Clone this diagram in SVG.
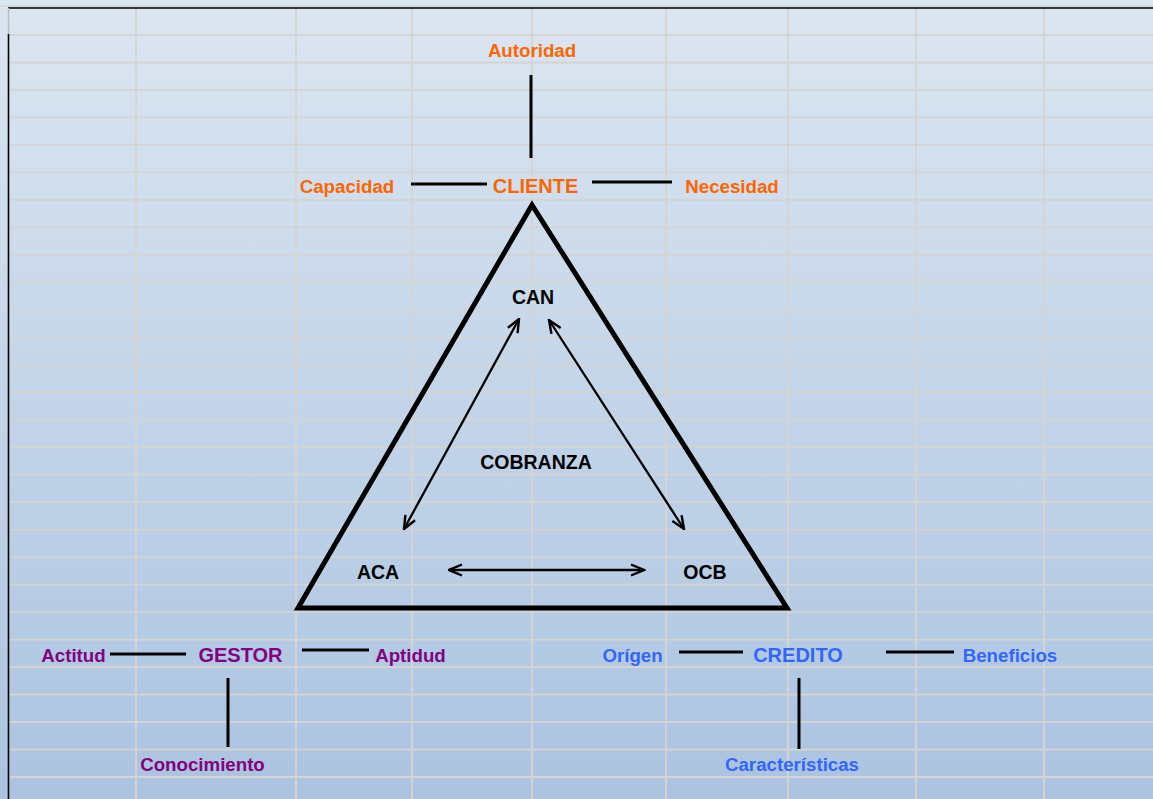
<svg xmlns="http://www.w3.org/2000/svg" width="1153" height="799" viewBox="0 0 1153 799">
<defs>
<linearGradient id="bg" x1="0" y1="0" x2="0" y2="1">
<stop offset="0" stop-color="#dce6f1"/>
<stop offset="1" stop-color="#abc3e0"/>
</linearGradient>
<marker id="arr" markerUnits="userSpaceOnUse" viewBox="0 0 16 14" markerWidth="16" markerHeight="14" refX="14.5" refY="7" orient="auto-start-reverse">
<path d="M1.5,1.5 L14.5,7 L1.5,12.5" fill="none" stroke="#000" stroke-width="2.4" stroke-linejoin="miter"/>
</marker>
</defs>
<style>
.grid{stroke:#d4d4d4;stroke-width:1.8;fill:none}
.t{font-family:"Liberation Sans",Arial,sans-serif;font-weight:bold;text-anchor:middle}
.lab{font-size:18.7px}
.main{font-size:20px}
.blk{font-size:19.5px;fill:#000}
.or{fill:#ff6600}
.pu{fill:#800080}
.bl{fill:#3366ff}
.ln{stroke:#000;stroke-width:3;fill:none}
.arw{stroke:#000;stroke-width:2.3;fill:none;marker-start:url(#arr);marker-end:url(#arr)}
</style>
<rect x="0" y="0" width="1153" height="799" fill="url(#bg)"/>
<g id="grid">
<path class="grid" d="M136,8V799M296,8V799M412,8V799M532,8V799M666,8V799M788,8V799M916,8V799M1044,8V799"/>
<path class="grid" d="M9,35H1153M9,62.5H1153M9,90H1153M9,117.4H1153M9,144.9H1153M9,172.4H1153M9,199.9H1153M9,227.4H1153M9,254.8H1153M9,282.3H1153M9,309.8H1153M9,337.3H1153M9,364.8H1153M9,392.2H1153M9,419.7H1153M9,447.2H1153M9,474.7H1153M9,502.2H1153M9,529.6H1153M9,557.1H1153M9,584.6H1153M9,612.1H1153M9,639.6H1153M9,667H1153M9,694.5H1153M9,722H1153M9,749.5H1153M9,777H1153"/>
<path d="M0,6H1153" stroke="#c8ccd2" stroke-width="1.2"/>
<path d="M8,8H1153" stroke="#000" stroke-width="1.6"/>
<path d="M8.5,8V34" stroke="#b8bcc2" stroke-width="1.5"/>
<path d="M8.5,34V799" stroke="#000" stroke-width="1.6"/>
</g>
<g id="connectors">
<path class="ln" d="M531,75V158"/>
<path class="ln" d="M411,184H487"/>
<path class="ln" d="M592,182H672"/>
<path class="ln" d="M110,654H186"/>
<path class="ln" d="M302,650H369"/>
<path class="ln" d="M228,678V747"/>
<path class="ln" d="M679,652H743"/>
<path class="ln" d="M886,652H954"/>
<path class="ln" d="M799,678V749"/>
<path class="arw" d="M519,319L404,529"/>
<path class="arw" d="M549,320L684,529"/>
<path class="arw" d="M449,570H644"/>
</g>
<g id="triangle">
<polygon points="532,205 298,608 787,608" fill="none" stroke="#000" stroke-width="5" stroke-linejoin="miter"/>
</g>
<g id="cliente"><text class="t main or" x="535.5" y="193">CLIENTE</text></g>
<g id="autoridad"><text class="t lab or" x="532" y="57">Autoridad</text></g>
<g id="capacidad"><text class="t lab or" x="347" y="193">Capacidad</text></g>
<g id="necesidad"><text class="t lab or" x="732" y="193">Necesidad</text></g>
<g id="can"><text class="t blk" x="533" y="304">CAN</text></g>
<g id="cobranza"><text class="t blk" x="536" y="469">COBRANZA</text></g>
<g id="aca"><text class="t blk" x="378" y="579">ACA</text></g>
<g id="ocb"><text class="t blk" x="705" y="579">OCB</text></g>
<g id="gestor"><text class="t main pu" x="240.5" y="662">GESTOR</text></g>
<g id="actitud"><text class="t lab pu" x="73.5" y="662">Actitud</text></g>
<g id="aptidud"><text class="t lab pu" x="410.5" y="662">Aptidud</text></g>
<g id="conocimiento"><text class="t lab pu" x="202.5" y="771">Conocimiento</text></g>
<g id="credito"><text class="t main bl" x="798" y="662">CREDITO</text></g>
<g id="origen"><text class="t lab bl" x="632.5" y="662">Orígen</text></g>
<g id="beneficios"><text class="t lab bl" x="1010" y="662">Beneficios</text></g>
<g id="caracteristicas"><text class="t lab bl" x="792" y="771">Características</text></g>
</svg>
